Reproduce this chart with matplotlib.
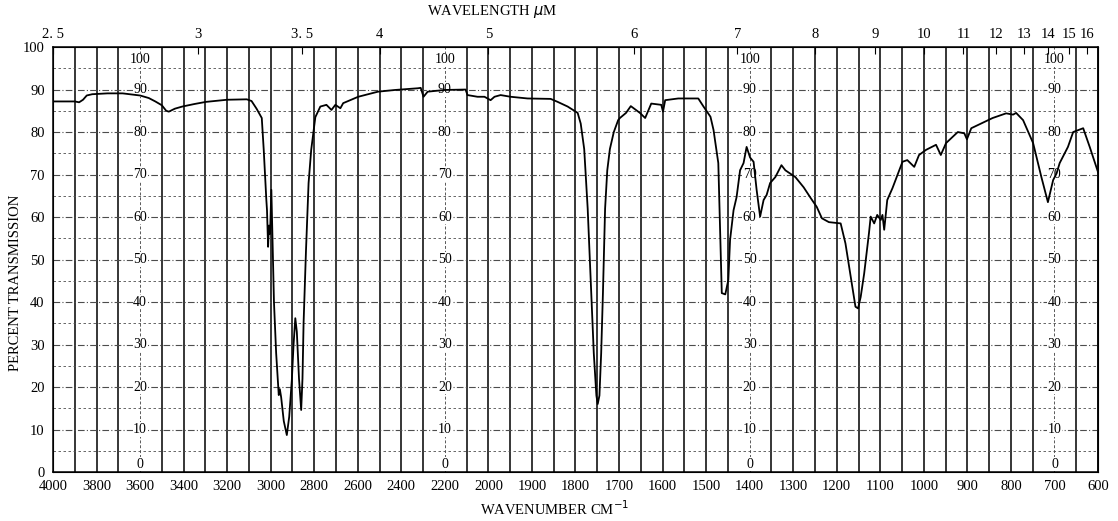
import matplotlib.pyplot as plt
import numpy as np

plt.rcParams["font.family"] = ["Liberation Serif", "DejaVu Serif"]

# spectrum (wavenumber cm-1, % transmission)
wavenumber = [4000, 3900, 3880, 3862, 3845, 3820, 3750, 3680, 3600, 3560, 3530, 3500,
              3480, 3468, 3440, 3406, 3350, 3297, 3200, 3110, 3088, 3065, 3041, 3032,
              3020, 3017, 3012, 3008, 3003, 2997, 2992, 2985, 2975, 2963, 2958, 2952,
              2940, 2926, 2915, 2903, 2895, 2887, 2880, 2870, 2860, 2854, 2849, 2838,
              2826, 2814, 2795, 2772, 2744, 2721, 2703, 2680, 2667, 2598, 2507, 2429,
              2324, 2311, 2298, 2279, 2201, 2105, 2096, 2050, 2018, 1995, 1986, 1972,
              1949, 1910, 1857, 1841, 1818, 1795, 1788, 1780, 1772, 1765, 1758, 1752,
              1749, 1745, 1741, 1737, 1732, 1727, 1721, 1712, 1702, 1698, 1684, 1673,
              1652, 1640, 1626, 1603, 1599, 1594, 1564, 1518, 1506, 1490, 1483, 1472,
              1468, 1464, 1456, 1449, 1445, 1437, 1430, 1422, 1414, 1407, 1399, 1391,
              1384, 1376, 1368, 1361, 1353, 1341, 1327, 1318, 1295, 1276, 1260, 1246,
              1234, 1218, 1191, 1180, 1168, 1157, 1151, 1145, 1137, 1126, 1122, 1114,
              1107, 1099, 1095, 1091, 1084, 1072, 1049, 1038, 1022, 1011, 995, 972,
              961, 949, 922, 907, 901, 891, 842, 811, 795, 788, 772, 749,
              730, 715, 703, 695, 688, 669, 657, 634, 619, 600]
transmission = [87.2, 87.2, 87.0, 87.6, 88.6, 88.9, 89.1, 89.1, 88.6, 88.0, 87.2, 86.3,
                85.0, 84.8, 85.5, 86.0, 86.6, 87.1, 87.6, 87.7, 87.3, 85.5, 83.3, 75.8,
                64, 61.6, 53, 58, 56, 66.4, 55, 40, 28, 18.1, 19.5, 17.6,
                12, 8.7, 13, 21.6, 30, 36.2, 33, 22, 14.6, 22, 35, 52,
                68, 75.8, 83.5, 86.0, 86.4, 85.2, 86.4, 85.6, 86.8, 88.3, 89.5, 89.9,
                90.3, 90.4, 88.3, 89.5, 89.9, 90.0, 88.7, 88.3, 88.3, 87.5, 88.3, 88.7,
                88.3, 87.9, 87.8, 87.1, 86.0, 84.5, 82, 76, 62, 45, 28, 18,
                16, 18, 28, 42, 62, 71, 76, 80, 82.8, 83.3, 84.5, 86.1,
                84.5, 83.3, 86.7, 86.4, 84.8, 87.5, 87.9, 87.9, 86.0, 83.6, 80.5, 72.7,
                57, 42.1, 41.8, 45.2, 54.6, 61.6, 64.7, 71, 72.7, 76.5, 74, 73,
                66.4, 60.1, 64, 65.2, 68, 69.4, 72.2, 71, 69.4, 67, 64.5, 62.4,
                59.7, 58.8, 58.5, 53.8, 46, 38.9, 38.5, 41.2, 46.7, 56.2, 60.1, 58.5,
                60.5, 59.3, 60.5, 57, 64, 66.8, 73, 73.4, 71.8, 74.6, 75.8, 77,
                74.6, 77.4, 80, 79.7, 78.3, 80.9, 83.3, 84.4, 84.1, 84.5, 82.8, 77.4,
                69.4, 63.5, 68.7, 70.3, 72.7, 76.5, 80, 80.9, 76.5, 70.6]

wn_labels = [4000, 3800, 3600, 3400, 3200, 3000, 2800, 2600, 2400, 2200, 2000,
             1900, 1800, 1700, 1600, 1500, 1400, 1300, 1200, 1100, 1000, 900, 800, 700, 600]
wavelength = [2.5, 3, 3.5, 4, 5, 6, 7, 8, 9, 10, 11, 12, 13, 14, 15, 16]
wl_labels = ["2. 5", "3", "3. 5", "4", "5", "6", "7", "8", "9", "10",
             "11", "12", "13", "14", "15", "16"]
inner_cols = [3600, 2200, 1400, 700]


# chart paper: scale below 2000 cm-1 is twice as wide
def fwd(w):
    w = np.asarray(w, dtype=float)
    return np.where(w >= 2000, w, 2 * w - 2000)


def inv(p):
    p = np.asarray(p, dtype=float)
    return np.where(p >= 2000, p, (p + 2000) / 2)


fig = plt.figure(figsize=(11.18, 5.21), dpi=100)
ax = fig.add_axes([0.0474, 0.094, 0.9347, 0.8157])
ax.set_xscale("function", functions=(fwd, inv))
ax.set_xlim(4000, 600)
ax.set_ylim(0, 100)

# grid
grid_x = list(range(4000, 2000, -100)) + list(range(2000, 599, -50))
for g in grid_x:
    if g in inner_cols:
        ax.axvline(g, color="0.35", lw=0.7, ls=(0, (3, 2)), zorder=1)
    else:
        ax.axvline(g, color="black", lw=1.1, zorder=1)
for h in range(5, 100, 5):
    ax.axhline(h, color="0.3", lw=0.8 if h % 10 == 0 else 0.6,
               ls=(0, (6, 2, 1, 2)) if h % 10 == 0 else (0, (3, 3)), zorder=1)

ax.plot(wavenumber, transmission, color="black", lw=1.3, zorder=3)

for c in inner_cols:
    for v in range(0, 101, 10):
        yv = 97 if v == 100 else (1.8 if v == 0 else v)
        ax.text(c, yv, str(v), ha="center", va="center", fontsize=10, zorder=2,
                bbox=dict(fc="white", ec="none", pad=0.4))

ax.set_xticks(wn_labels)
ax.set_xticklabels([str(w) for w in wn_labels], fontsize=10.5)
ax.set_yticks(range(0, 101, 10))
ax.set_yticklabels([str(v) for v in range(0, 101, 10)], fontsize=10.5)
ax.tick_params(length=0, pad=6)
ax.set_xlabel("WAVENUMBER CM$^{-1}$", fontsize=10.5)
ax.xaxis.set_label_coords(0.48, -0.064)
ax.set_ylabel("PERCENT TRANSMISSION", fontsize=10.5)
ax.yaxis.set_label_coords(-0.03, 0.445)
for s in ax.spines.values():
    s.set_linewidth(1.1)

ax2 = ax.twiny()
ax2.set_xscale("function", functions=(fwd, inv))
ax2.set_xlim(ax.get_xlim())
ax2.set_xticks([1e4 / w for w in wavelength])
ax2.set_xticklabels(wl_labels, fontsize=10.5)
ax2.tick_params(direction="in", length=5, pad=4)
ax2.set_xlabel("WAVELENGTH $\\mu$M", fontsize=10.5)
ax2.xaxis.set_label_coords(0.42, 1.075)

fig.savefig("out.png", dpi=100)
